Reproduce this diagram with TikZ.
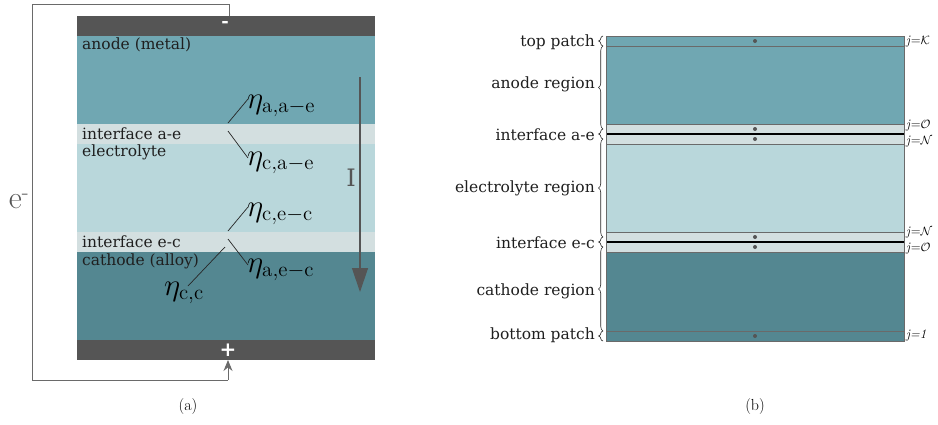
\documentclass[tikz,border=0pt]{standalone}
\usepackage{fontspec}
\usepackage{amsmath}
\usetikzlibrary{arrows.meta,decorations.pathreplacing}
\newfontfamily\lbl{DejaVu Serif}
\definecolor{cdark}{HTML}{555555}
\definecolor{canode}{HTML}{70A7B2}
\definecolor{celec}{HTML}{B9D7DB}
\definecolor{ciface}{HTML}{D3DFE0}
\definecolor{ccath}{HTML}{548791}
\definecolor{cline}{HTML}{6A6A6A}
\newcommand{\etalab}[1]{\scalebox{1.5}{$\eta_{\mathrm{#1}}$}}
\begin{document}
\begin{tikzpicture}[x=1pt,y=-1pt,
  lab/.style={font=\lbl\fontsize{15.5}{17}\selectfont, text=black!88, inner sep=0pt},
  rlab/.style={font=\lbl\fontsize{15.5}{17}\selectfont, text=black!88, inner sep=0pt, anchor=east},
  eta/.style={font=\fontsize{20}{22}\selectfont, inner sep=0pt, anchor=west},
  jlab/.style={font=\fontsize{13}{14}\selectfont, inner sep=0pt, anchor=west},
  wire/.style={draw=cline, line width=0.9pt},
  lead/.style={draw=black!85, line width=0.7pt},
  captxt/.style={font=\fontsize{16}{18}\selectfont, inner sep=0pt},
  sep/.style={draw=cline, line width=0.8pt},
  thick sep/.style={draw=black, line width=1.8pt},
  brc/.style={decorate, decoration={brace, amplitude=4.5pt}, draw=black!85, line width=0.6pt},
  dotfill/.style={fill=cdark}]
\useasboundingbox (0,0) rectangle (938,424);

% ---------------- panel (a) ----------------
\fill[cdark]  (77,16)  rectangle (375,36);
\fill[canode] (77,36)  rectangle (375,124);
\fill[ciface] (77,124) rectangle (375,144);
\fill[celec]  (77,144) rectangle (375,232);
\fill[ciface] (77,232) rectangle (375,252);
\fill[ccath]  (77,252) rectangle (375,340);
\fill[cdark]  (77,340) rectangle (375,360);

\node[text=white, inner sep=0pt, font=\lbl\bfseries\fontsize{18}{18}\selectfont] (minus) at (225,24.5) {-};
\node[text=white, inner sep=0pt, font=\lbl\bfseries\fontsize{20}{20}\selectfont] (plus) at (228,350) {+};

\coordinate (wtop) at (229,16);
\coordinate (wbot) at (228,360);
\draw[wire] (wtop) -- (229,4) -- (32,4) -- (32,380) -- (228,380);
\draw[wire, -{Stealth[length=11pt,width=9pt]}] (228,380) -- (wbot);

\node[text=cdark, font=\fontsize{32}{32}\selectfont, inner sep=0pt] (eminus) at (19,201) {e\textsuperscript{-}};

\node[lab, anchor=base west] (anode) at (82,49) {anode (metal)};
\node[lab, anchor=base west] (ifae) at (82,139.5) {interface a-e};
\node[lab, anchor=base west] (elec) at (82,156) {electrolyte};
\node[lab, anchor=base west] (ifec) at (82,247) {interface e-c};
\node[lab, anchor=base west] (cath) at (82,265) {cathode (alloy)};

\node[eta] (e1) at (247,106) {\etalab{a,a-e}};
\node[eta] (e2) at (247,163) {\etalab{c,a-e}};
\node[eta] (e3) at (247,214) {\etalab{c,e-c}};
\node[eta] (e4) at (247,270) {\etalab{a,e-c}};
\node[eta, anchor=center] (e5) at (184,293) {\etalab{c,c}};

\coordinate (p1) at (228,123);
\coordinate (p2) at (228,131);
\coordinate (p3) at (228,231);
\coordinate (p4) at (228,239);
\coordinate (p5) at (225,247);
\draw[lead] (p1) -- (248,99);
\draw[lead] (p2) -- (248,158);
\draw[lead] (p3) -- (248,207);
\draw[lead] (p4) -- (248,265);
\draw[lead] (p5) -- (188,286);

\coordinate (itop) at (360,77);
\coordinate (ibot) at (360,292);
\draw[draw=cdark, line width=1.3pt, -{Triangle[length=24pt,width=16pt]}] (itop) -- (ibot);
\node[text=cdark, font=\lbl\fontsize{24}{24}\selectfont, inner sep=0pt] (Ilab) at (351,178) {I};

\node[captxt] (capa) at (188,407) {(a)};

% ---------------- panel (b) ----------------
\fill[canode] (606,36)  rectangle (904,124);
\fill[ciface] (606,124) rectangle (904,144);
\fill[celec]  (606,144) rectangle (904,232);
\fill[ciface] (606,232) rectangle (904,252);
\fill[ccath]  (606,252) rectangle (904,341);
\foreach \yy in {46,124,144,232,252,331} \draw[sep] (606,\yy) -- (904,\yy);
\draw[thick sep] (606,134) -- (904,134);
\draw[thick sep] (606,242) -- (904,242);
\draw[draw=cline, line width=0.9pt] (606,36) rectangle (904,341);
\foreach \yy in {41,129,139,237,247,336} \fill[dotfill] (755,\yy) circle (2pt);

\draw[brc] (603,46)  -- (603,36);
\draw[brc] (603,129) -- (603,46);
\draw[brc] (603,139) -- (603,129);
\draw[brc] (603,237) -- (603,139);
\draw[brc] (603,247) -- (603,237);
\draw[brc] (603,331) -- (603,247);
\draw[brc] (603,341) -- (603,331);

\node[rlab] (tp) at (595,42) {top patch};
\node[rlab] (ar) at (595,84) {anode region};
\node[rlab] (ia) at (595,134.5) {interface a-e};
\node[rlab] (er) at (595,188) {electrolyte region};
\node[rlab] (ie) at (595,242.5) {interface e-c};
\node[rlab] (cr) at (595,291) {cathode region};
\node[rlab] (bp) at (595,335.5) {bottom patch};

\node[jlab] (j1) at (906,42) {\textit{j}=$\mathcal{K}$};
\node[jlab] (j2) at (906,126) {\textit{j}=$\mathcal{O}$};
\node[jlab] (j3) at (906,142) {\textit{j}=$\mathcal{N}$};
\node[jlab] (j4) at (906,233) {\textit{j}=$\mathcal{N}$};
\node[jlab] (j5) at (906,249) {\textit{j}=$\mathcal{O}$};
\node[jlab] (j6) at (906,335) {\textit{j=1}};

\node[captxt] (capb) at (755,407) {(b)};
\end{tikzpicture}
\end{document}
